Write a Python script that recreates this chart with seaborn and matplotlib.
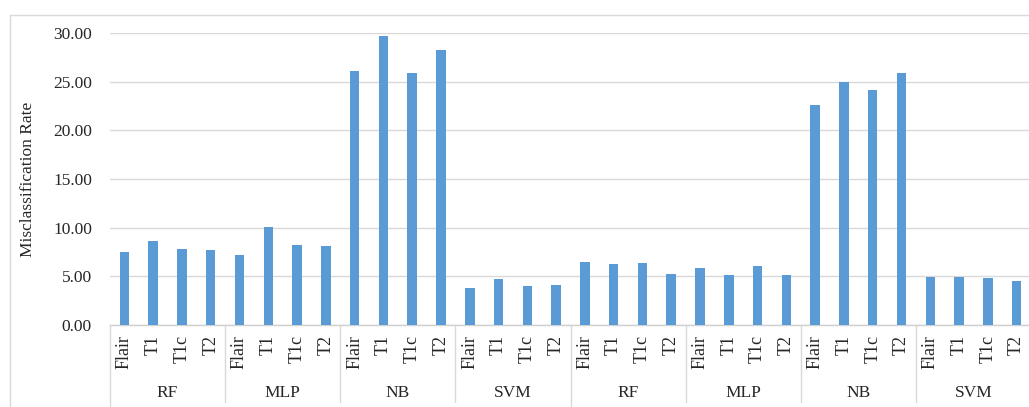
import pandas as pd
import matplotlib.pyplot as plt
import seaborn as sns
from matplotlib.lines import Line2D
from matplotlib.transforms import blended_transform_factory

# data
classifiers = ["RF", "MLP", "NB", "SVM", "RF", "MLP", "NB", "SVM"]
modalities = ["Flair", "T1", "T1c", "T2"]
rates = [
    7.47, 8.63, 7.81, 7.68,
    7.23, 10.11, 8.26, 8.16,
    26.10, 29.70, 25.84, 28.30,
    3.84, 4.73, 4.01, 4.08,
    6.48, 6.27, 6.34, 5.24,
    5.86, 5.18, 6.03, 5.18,
    22.58, 24.94, 24.15, 25.87,
    4.97, 4.93, 4.83, 4.49,
]

rows = []
for g, clf in enumerate(classifiers):
    for m, mod in enumerate(modalities):
        rows.append({"key": f"{g}-{mod}", "group": clf, "modality": mod,
                     "rate": rates[g * len(modalities) + m]})
df = pd.DataFrame(rows)

sns.set_style("white")
plt.rcParams["font.family"] = ["Liberation Serif", "DejaVu Serif"]

W, H = 1029, 407
fig = plt.figure(figsize=(W / 100, H / 100), dpi=100)
ax = fig.add_axes([110 / W, (H - 325) / H, 921 / W, 292 / H])

sns.barplot(data=df, x="key", y="rate", color="#5B9BD5", width=0.33,
            saturation=1, linewidth=0, ax=ax, zorder=3)

ax.set_xlim(-0.5, len(df) - 0.5)
ax.set_ylim(0, 30)
ax.set_yticks(range(0, 31, 5))
ax.set_yticklabels([f"{v:.2f}" for v in range(0, 31, 5)], fontsize=12.5)
ax.set_xticks(range(len(df)))
ax.set_xticklabels(df["modality"], rotation=90, fontsize=13)
ax.tick_params(axis="both", length=0)
ax.tick_params(axis="x", pad=7)
ax.tick_params(axis="y", pad=13)
ax.set_xlabel("")
ax.set_ylabel("Misclassification Rate", fontsize=12.5, labelpad=12)

ax.yaxis.grid(True, color="#D9D9D9", linewidth=1, zorder=0)
for side in ["left", "right", "top"]:
    ax.spines[side].set_visible(False)
ax.spines["bottom"].set_color("#D0D0D0")
ax.spines["bottom"].set_linewidth(1)

# multi-level category axis: group labels and separators
trans = blended_transform_factory(ax.transData, ax.transAxes)
n = len(modalities)
for g, clf in enumerate(classifiers):
    center = g * n + (n - 1) / 2
    ax.text(center, -0.233, clf, transform=trans, ha="center", va="center",
            fontsize=12.5)
for g in range(len(classifiers) + 1):
    xb = g * n - 0.5
    bottom = -0.30 if g in (0, 4, 8) else -0.265
    ax.add_line(Line2D([xb, xb], [0, bottom], transform=trans, color="#D9D9D9",
                       linewidth=1, clip_on=False))

# chart area border (cropped at right and bottom)
x0 = 10 / W
y0 = 1 - 15 / H
fig.add_artist(Line2D([x0, x0], [0, y0], transform=fig.transFigure,
                      color="#D9D9D9", linewidth=1))
fig.add_artist(Line2D([x0, 1], [y0, y0], transform=fig.transFigure,
                      color="#D9D9D9", linewidth=1))

fig.savefig("out.png", dpi=100)
